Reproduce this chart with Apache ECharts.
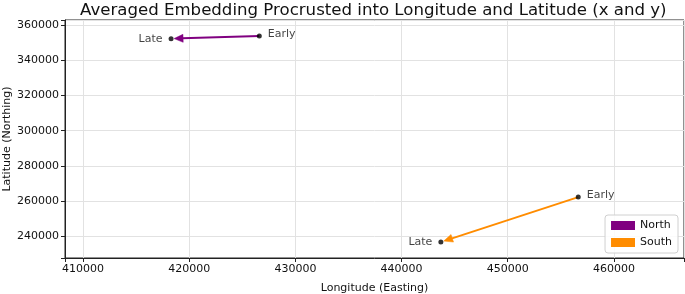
<!DOCTYPE html>
<html>
<head>
<meta charset="utf-8">
<script src="https://cdn.jsdelivr.net/npm/echarts@6/dist/echarts.min.js"></script>
<style>
  html, body { margin: 0; padding: 0; background: #fff; }
  #chart { width: 685px; height: 294px; }
</style>
</head>
<body>
<div id="chart"></div>
<script>
// 数据
const groups = ['North', 'South'];
const stages = ['Early', 'Late'];
const northX = [426600, 418290];
const northY = [353760, 352230];
const southX = [456640, 443700];
const southY = [262320, 236830];
const groupColors = ['#800080', '#ff8c00'];
const xLimits = [408300, 466600];
const yLimits = [227750, 362830];

const xs = [northX, southX];
const ys = [northY, southY];

const chart = echarts.init(document.getElementById('chart'));
const font = 'DejaVu Sans';
const ink = '#111';

// 箭头: Early -> Late
function arrowItem(params, api) {
    const p1 = api.coord([api.value(0), api.value(1)]);
    const p2 = api.coord([api.value(2), api.value(3)]);
    const dx = p2[0] - p1[0], dy = p2[1] - p1[1];
    const len = Math.sqrt(dx * dx + dy * dy);
    const ux = dx / len, uy = dy / len;
    const tip = [p2[0] - ux * 3, p2[1] - uy * 3];
    const headL = 9, headW = 4;
    const base = [tip[0] - ux * headL, tip[1] - uy * headL];
    const color = api.visual('color');
    return {
        type: 'group',
        children: [
            {
                type: 'line',
                shape: { x1: p1[0], y1: p1[1], x2: base[0] + ux, y2: base[1] + uy },
                style: { stroke: color, lineWidth: 2 }
            },
            {
                type: 'polygon',
                shape: { points: [tip,
                    [base[0] - uy * headW, base[1] + ux * headW],
                    [base[0] + uy * headW, base[1] - ux * headW]] },
                style: { fill: color, stroke: color, lineWidth: 0.5 }
            }
        ]
    };
}

const series = [];
groups.forEach((g, gi) => {
    series.push({
        name: g,
        type: 'custom',
        renderItem: arrowItem,
        itemStyle: { color: groupColors[gi] },
        encode: { x: [0, 2], y: [1, 3] },
        data: [[xs[gi][0], ys[gi][0], xs[gi][1], ys[gi][1]]],
        z: 2
    });
});

const pointData = [];
groups.forEach((g, gi) => {
    stages.forEach((s, si) => {
        pointData.push({
            name: s,
            value: [xs[gi][si], ys[gi][si]],
            label: si === 0
                ? { position: 'right', offset: [1, -2] }
                : { position: 'left', offset: [-1, 0] }
        });
    });
});
series.push({
    name: 'points',
    type: 'scatter',
    symbolSize: 5,
    itemStyle: { color: '#000' },
    data: pointData,
    z: 5,
    label: {
        show: true,
        formatter: '{b}',
        color: ink,
        fontFamily: font,
        fontSize: 11,
        distance: 5
    }
});

const tickLabel = step => v => (v % step === 0 ? String(v) : '');

chart.setOption({
    backgroundColor: '#fff',
    animation: false,
    title: {
        text: 'Averaged Embedding Procrusted into Longitude and Latitude (x and y)',
        left: 80,
        top: 2,
        padding: 0,
        textStyle: { fontFamily: font, fontSize: 16.6, fontWeight: 'normal', color: ink }
    },
    grid: {
        left: 65, right: 1, top: 20, bottom: 36,
        containLabel: false,
        outerBoundsMode: 'none',
        show: true, borderColor: '#222', borderWidth: 1
    },
    legend: {
        data: groups.map((g, gi) => ({ name: g, icon: 'rect', itemStyle: { color: groupColors[gi] } })),
        orient: 'vertical',
        right: 7,
        bottom: 41,
        itemWidth: 24,
        itemHeight: 9,
        itemGap: 6,
        padding: [5, 6, 5, 6],
        borderColor: '#d0d0d0',
        borderWidth: 1,
        borderRadius: 3,
        backgroundColor: 'rgba(255,255,255,0.85)',
        textStyle: { fontFamily: font, fontSize: 11, color: ink }
    },
    xAxis: {
        type: 'value',
        min: xLimits[0],
        max: xLimits[1],
        splitNumber: 6,
        name: 'Longitude (Easting)',
        nameLocation: 'middle',
        nameGap: 25,
        nameMoveOverlap: false,
        nameTextStyle: { fontFamily: font, fontSize: 11, color: ink },
        axisLine: { show: true, lineStyle: { color: '#222' } },
        axisTick: { show: true, length: 4, lineStyle: { color: '#222' } },
        axisLabel: { fontFamily: font, fontSize: 11, color: ink, margin: 6, formatter: tickLabel(10000) },
        splitLine: { show: true, lineStyle: { color: '#e2e2e2' } }
    },
    yAxis: {
        type: 'value',
        min: yLimits[0],
        max: yLimits[1],
        splitNumber: 7,
        name: 'Latitude (Northing)',
        nameLocation: 'middle',
        nameGap: 52,
        nameMoveOverlap: false,
        nameTextStyle: { fontFamily: font, fontSize: 11, color: ink },
        axisLine: { show: true, lineStyle: { color: '#222' } },
        axisTick: { show: true, length: 4, lineStyle: { color: '#222' } },
        axisLabel: { fontFamily: font, fontSize: 11, color: ink, margin: 6, formatter: tickLabel(20000) },
        splitLine: { show: true, lineStyle: { color: '#e2e2e2' } }
    },
    series: series
});
</script>
</body>
</html>
